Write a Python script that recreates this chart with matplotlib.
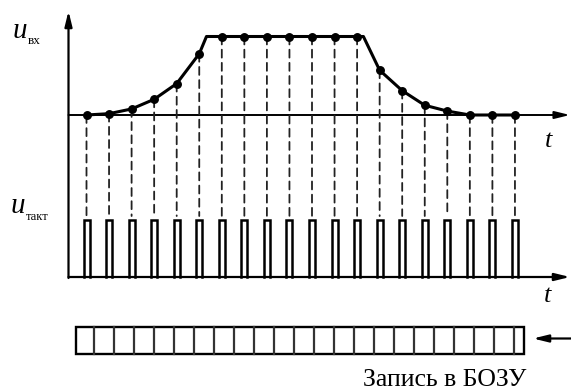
import numpy as np
import matplotlib.pyplot as plt
from matplotlib.patches import ConnectionPatch, Rectangle

plt.rcParams["font.family"] = ["Liberation Serif", "DejaVu Serif"]

# отсчёты входного сигнала (в долях от уровня площадки)
t_samples = np.arange(20)
u_samples = [0.0, 0.017, 0.077, 0.20, 0.40, 0.78,
             1.0, 1.0, 1.0, 1.0, 1.0, 1.0, 1.0,
             0.57, 0.31, 0.124, 0.05, 0.0, 0.0, 0.0]

# изломы кривой: начало и конец площадки
t_corners = [5.32, 12.28]
u_corners = [1.0, 1.0]

clk_level = 1.0      # амплитуда тактовых импульсов
n_cells = 23         # ячейки БОЗУ

label_in = "вх"
label_clk = "такт"
label_mem = "Запись в БОЗУ"

#!=================================================================================================
W, H = 571, 391
X0, DX = 86.5, 22.55         # положение первого отсчёта и шаг, px
U0, UPX = 115.0, 78.5        # нулевой уровень u_вх и масштаб, px
C0, CPX = 277.0, 57.5        # нулевой уровень u_такт и масштаб, px
AX_X = 68.5

fig = plt.figure(figsize=(W / 100, H / 100), dpi=100)

# оси в пикселях - для стрелок, подписей и регистра
ax_px = fig.add_axes([0, 0, 1, 1])
ax_px.set_xlim(0, W)
ax_px.set_ylim(H, 0)
ax_px.axis("off")

xl = (-X0 / DX, (W - X0) / DX)

ax_c = fig.add_axes([0, 0, 1, 1])
ax_c.set_xlim(*xl)
ax_c.set_ylim(-(H - C0) / CPX, C0 / CPX)
ax_c.axis("off")

ax_u = fig.add_axes([0, 0, 1, 1])
ax_u.set_xlim(*xl)
ax_u.set_ylim(-(H - U0) / UPX, U0 / UPX)
ax_u.axis("off")

# входной сигнал
curve = sorted(zip(list(t_samples) + t_corners, u_samples + u_corners))
ax_u.plot([c[0] for c in curve], [c[1] for c in curve], color="black", lw=2.2,
          solid_joinstyle="round", zorder=3)
ax_u.plot(t_samples, u_samples, "o", color="black", ms=5.4, zorder=4)

# тактовые импульсы
hw = 3.0 / DX
for t in t_samples:
    ax_c.plot([t - hw, t - hw, t + hw, t + hw], [0, clk_level, clk_level, 0],
              color="black", lw=1.8, solid_joinstyle="miter")

# пунктир от отсчёта до импульса
gap = 3.5 / CPX
for t, u in zip(t_samples, u_samples):
    con = ConnectionPatch(xyA=(t, u), coordsA=ax_u.transData,
                          xyB=(t, clk_level + gap), coordsB=ax_c.transData,
                          color="#222222", lw=1.3, linestyle=(0, (4.4, 2.9)))
    ax_c.add_artist(con)

# оси координат
arr = dict(arrowstyle="-|>,head_length=0.9,head_width=0.22", color="black",
           shrinkA=0, shrinkB=0)
ax_px.annotate("", xy=(AX_X, 11), xytext=(AX_X, C0 + 1), arrowprops=dict(arr, lw=1.6))
ax_px.annotate("", xy=(W - 1, U0), xytext=(AX_X, U0), arrowprops=dict(arr, lw=1.4))
ax_px.annotate("", xy=(W - 1, C0), xytext=(AX_X, C0), arrowprops=dict(arr, lw=1.6))

# подписи
ax_px.text(20, 38, "u", fontsize=21, style="italic", ha="center", va="baseline")
ax_px.text(28, 44, label_in, fontsize=9.5, ha="left", va="baseline")
ax_px.text(17.5, 213, "u", fontsize=21, style="italic", ha="center", va="baseline")
ax_px.text(25.5, 220, label_clk, fontsize=9, ha="left", va="baseline")
ax_px.text(549, 147, "t", fontsize=19, style="italic", ha="center", va="baseline")
ax_px.text(548, 302, "t", fontsize=19, style="italic", ha="center", va="baseline")

# регистр БОЗУ
rx0, rx1, ry0, ry1 = 75.5, 523.5, 327.0, 354.0
for k in range(n_cells - 1):
    xk = 93.5 + 20 * k
    ax_px.plot([xk, xk], [ry0, ry1], color="#333333", lw=1.6)
ax_px.add_patch(Rectangle((rx0, ry0), rx1 - rx0, ry1 - ry0, fill=False,
                          edgecolor="black", lw=1.7))
ax_px.annotate("", xy=(533, 338.5), xytext=(W, 338.5), arrowprops=dict(arr, lw=1.6))
ax_px.text(444.5, 386, label_mem, fontsize=18.5, ha="center", va="baseline")

fig.savefig("out.png", dpi=100)
